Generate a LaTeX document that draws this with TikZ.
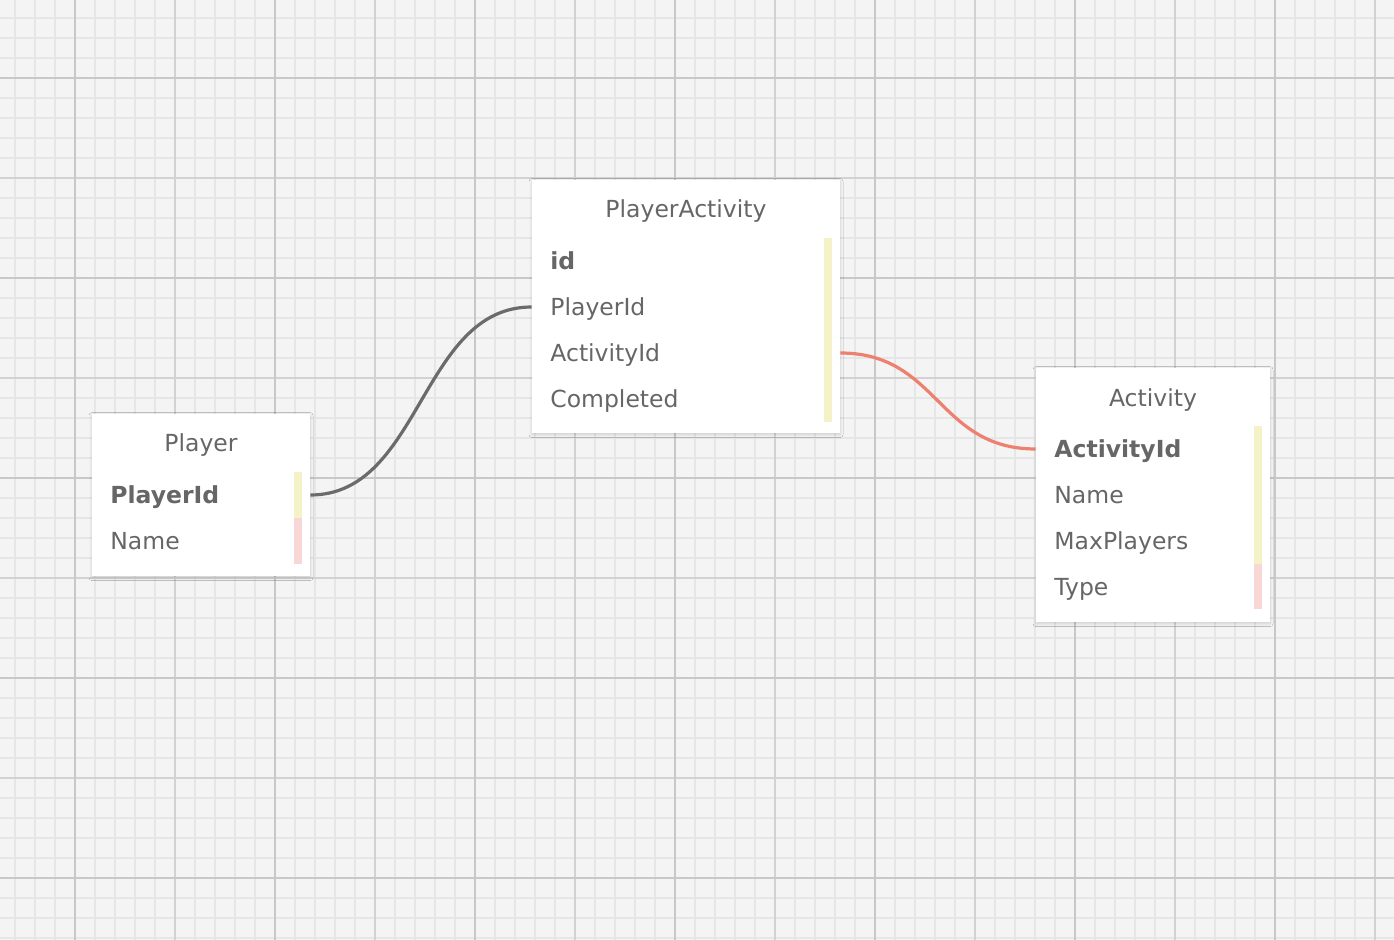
\documentclass[tikz,border=0pt]{standalone}
\usepackage{fontspec}
\setmainfont{DejaVu Sans}
\usetikzlibrary{shadows.blur}
\definecolor{bg}{HTML}{F4F4F4}
\definecolor{gminor}{HTML}{E6E6E6}
\definecolor{gmid}{HTML}{D2D2D2}
\definecolor{gmajor}{HTML}{C8C8C8}
\definecolor{txt}{HTML}{666666}
\definecolor{baryel}{HTML}{F5F2C8}
\definecolor{barpink}{HTML}{F9D7D7}
\definecolor{conngray}{HTML}{6B6B6B}
\definecolor{connred}{HTML}{EE8070}
\tikzset{
  tablebox/.style={draw=none, fill=white, rectangle, inner sep=0pt,
    blur shadow={shadow xshift=0pt, shadow yshift=-0.8pt, shadow blur radius=1.5pt, shadow opacity=16}},
  titletext/.style={anchor=base, inner sep=0pt, text=txt, font=\fontsize{11.75}{14}\selectfont},
  rowtext/.style={anchor=base west, inner sep=0pt, text height=9pt, text depth=0pt, text=txt, font=\fontsize{11.75}{14}\selectfont},
  keytext/.style={rowtext, font=\fontsize{11.75}{14}\selectfont\bfseries},
  conn/.style={line width=1.6pt},
}
\begin{document}
\begin{tikzpicture}[x=0.5pt,y=-0.5pt]
\useasboundingbox (0,0) rectangle (1394,940);
\fill[bg] (0,0) rectangle (1394,940);
% grid
\foreach \i in {15,35,...,1395} \draw[gminor, line width=1pt] (\i,0) -- (\i,940);
\foreach \j in {18,38,...,938} \draw[gminor, line width=1pt] (0,\j) -- (1394,\j);
\foreach \i in {175,375,...,1375} \draw[gmid, line width=1pt] (\i,0) -- (\i,940);
\foreach \j in {178,378,...,878} \draw[gmid, line width=1pt] (0,\j) -- (1394,\j);
\foreach \i in {75,275,...,1275} \draw[gmajor, line width=1pt] (\i,0) -- (\i,940);
\foreach \j in {78,278,...,878} \draw[gmajor, line width=1pt] (0,\j) -- (1394,\j);

% Player table
\node[tablebox, minimum width=109pt, minimum height=81pt] (player) at (201,495) {};
\fill[baryel] (294,472) rectangle (302,518);
\fill[barpink] (294,518) rectangle (302,564);
\node[titletext] (playertitle) at (201,452) {Player};
\node[keytext] (p1) at (110,504) {PlayerId};
\node[rowtext] (p2) at (110,550) {Name};

% PlayerActivity table
\node[tablebox, minimum width=154pt, minimum height=126.5pt] (pa) at (686,306.5) {};
\fill[baryel] (824,238) rectangle (832,422);
\node[titletext] (patitle) at (686,218) {PlayerActivity};
\node[keytext] (pa1) at (550,270) {id};
\node[rowtext] (pa2) at (550,316) {PlayerId};
\node[rowtext] (pa3) at (550,362) {ActivityId};
\node[rowtext] (pa4) at (550,408) {Completed};

% Activity table
\node[tablebox, minimum width=117pt, minimum height=127pt] (act) at (1153,495) {};
\fill[baryel] (1254,426) rectangle (1262,564);
\fill[barpink] (1254,564) rectangle (1262,609);
\node[titletext] (acttitle) at (1153,407) {Activity};
\node[keytext] (a1) at (1054,458) {ActivityId};
\node[rowtext] (a2) at (1054,504) {Name};
\node[rowtext] (a3) at (1054,550) {MaxPlayers};
\node[rowtext] (a4) at (1054,596) {Type};

% connectors
\draw[conn, conngray] (player.east |- p1.center) .. controls +(111,0) and +(-111,0) .. (pa.west |- pa2.center);
\draw[conn, connred] (pa.east |- pa3.center) .. controls +(98,0) and +(-98,0) .. (act.west |- a1.center);
\end{tikzpicture}
\end{document}
